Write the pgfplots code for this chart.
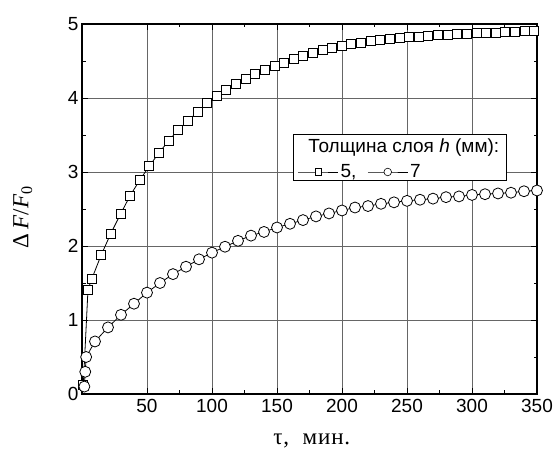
\documentclass[border=0pt]{standalone}
\usepackage{fontspec}
\setmainfont{Liberation Sans}
\newfontfamily\seriffont{Liberation Serif}
\usepackage{pgfplots}
\pgfplotsset{compat=1.18}
\pgfplotstableread{
t F
1.0 0.12
4.6 1.41
7.4 1.55
14.8 1.88
22.2 2.17
29.6 2.43
37.0 2.68
44.4 2.89
51.8 3.08
59.2 3.26
66.6 3.42
74.0 3.57
81.4 3.69
88.8 3.81
96.2 3.93
103.6 4.03
111.0 4.11
118.4 4.19
125.8 4.26
133.2 4.32
140.6 4.38
148.0 4.43
155.4 4.48
162.8 4.53
170.2 4.57
177.6 4.61
185.0 4.65
192.4 4.68
199.8 4.71
207.2 4.73
214.6 4.75
222.0 4.77
229.4 4.785
236.8 4.80
244.2 4.81
251.6 4.82
259.0 4.83
266.4 4.84
273.8 4.85
281.2 4.855
288.6 4.86
296.0 4.87
303.4 4.875
310.8 4.88
318.2 4.885
325.6 4.89
333.0 4.895
340.4 4.90
347.8 4.90
}\sq
\pgfplotstableread{
t F
1.8 0.10
2.5 0.30
3.2 0.50
10 0.71
20 0.90
30 1.07
40 1.22
50 1.37
60 1.50
70 1.62
80 1.72
90 1.82
100 1.91
110 1.99
120 2.07
130 2.14
140 2.19
150 2.25
160 2.30
170 2.35
180 2.40
190 2.44
200 2.48
210 2.52
220 2.54
230 2.57
240 2.59
250 2.61
260 2.625
270 2.64
280 2.66
290 2.67
300 2.69
310 2.70
320 2.71
330 2.72
340 2.74
350 2.75
}\ci
\begin{document}
\begin{tikzpicture}
\begin{axis}[
  scale only axis, width=455pt, height=370pt,
  xmin=0, xmax=350, ymin=0, ymax=5,
  xtick={50,100,...,350}, ytick={0,1,...,5},
  minor x tick num=1, minor y tick num=1,
  tick align=inside, major tick length=6pt, minor tick length=3.5pt,
  tick style={black, line width=0.8pt},
  grid=major, major grid style={black!60, line width=0.8pt},
  axis line style={line width=1.2pt},
  ticklabel style={font=\fontsize{19}{22}\selectfont},
  xticklabel style={yshift=-2pt},
  /pgf/number format/assume math mode=true,
  xlabel={\seriffont\fontsize{23}{26}\selectfont\addfontfeature{LetterSpace=4}τ,\ \ мин.},
  ylabel={\seriffont\fontsize{23}{26}\selectfont Δ\,\textit{F}/\textit{F}\textsubscript{0}},
  xlabel style={at={(axis description cs:0.505,-0.127)}, anchor=center},
  ylabel style={at={(axis description cs:-0.13,0.478)}, anchor=center},
  legend style={at={(axis cs:166,3.0)}, anchor=west, draw=none, fill=none,
    legend columns=2, inner sep=0pt, font=\fontsize{19}{22}\selectfont,
    /tikz/every even column/.append style={column sep=9pt}},
  legend image code/.code={\draw[#1, line width=0.6pt, mark repeat=2, mark phase=2] plot coordinates {(0pt,0pt) (20pt,0pt) (40pt,0pt)};},
]
\addplot[black, line width=0.8pt, mark=square*, mark size=4.5pt,
  mark options={fill=white, line width=0.8pt},
  legend image post style={mark size=3.3pt, mark options={fill=white, line width=0.6pt}}] table[x=t,y=F]{\sq};
\addlegendentry{5,}
\addplot[black, line width=0.8pt, mark=*, mark size=5.5pt,
  mark options={fill=white, line width=0.8pt},
  legend image post style={mark size=3.8pt, mark options={fill=white, line width=0.6pt}}] table[x=t,y=F]{\ci};
\addlegendentry{7}
\draw[black, line width=0.9pt, fill=white] (axis cs:162.3,2.88) rectangle (axis cs:326.2,3.51);
\node[anchor=west, font=\fontsize{19}{22}\selectfont, inner sep=0pt] at (axis cs:174,3.33) {Толщина слоя \textit{h} (мм):};
\end{axis}
\pgfresetboundingbox
\path ([shift={(-82pt,-67pt)}]current axis.south west) rectangle ([shift={(18pt,24pt)}]current axis.north east);
\end{tikzpicture}
\end{document}
